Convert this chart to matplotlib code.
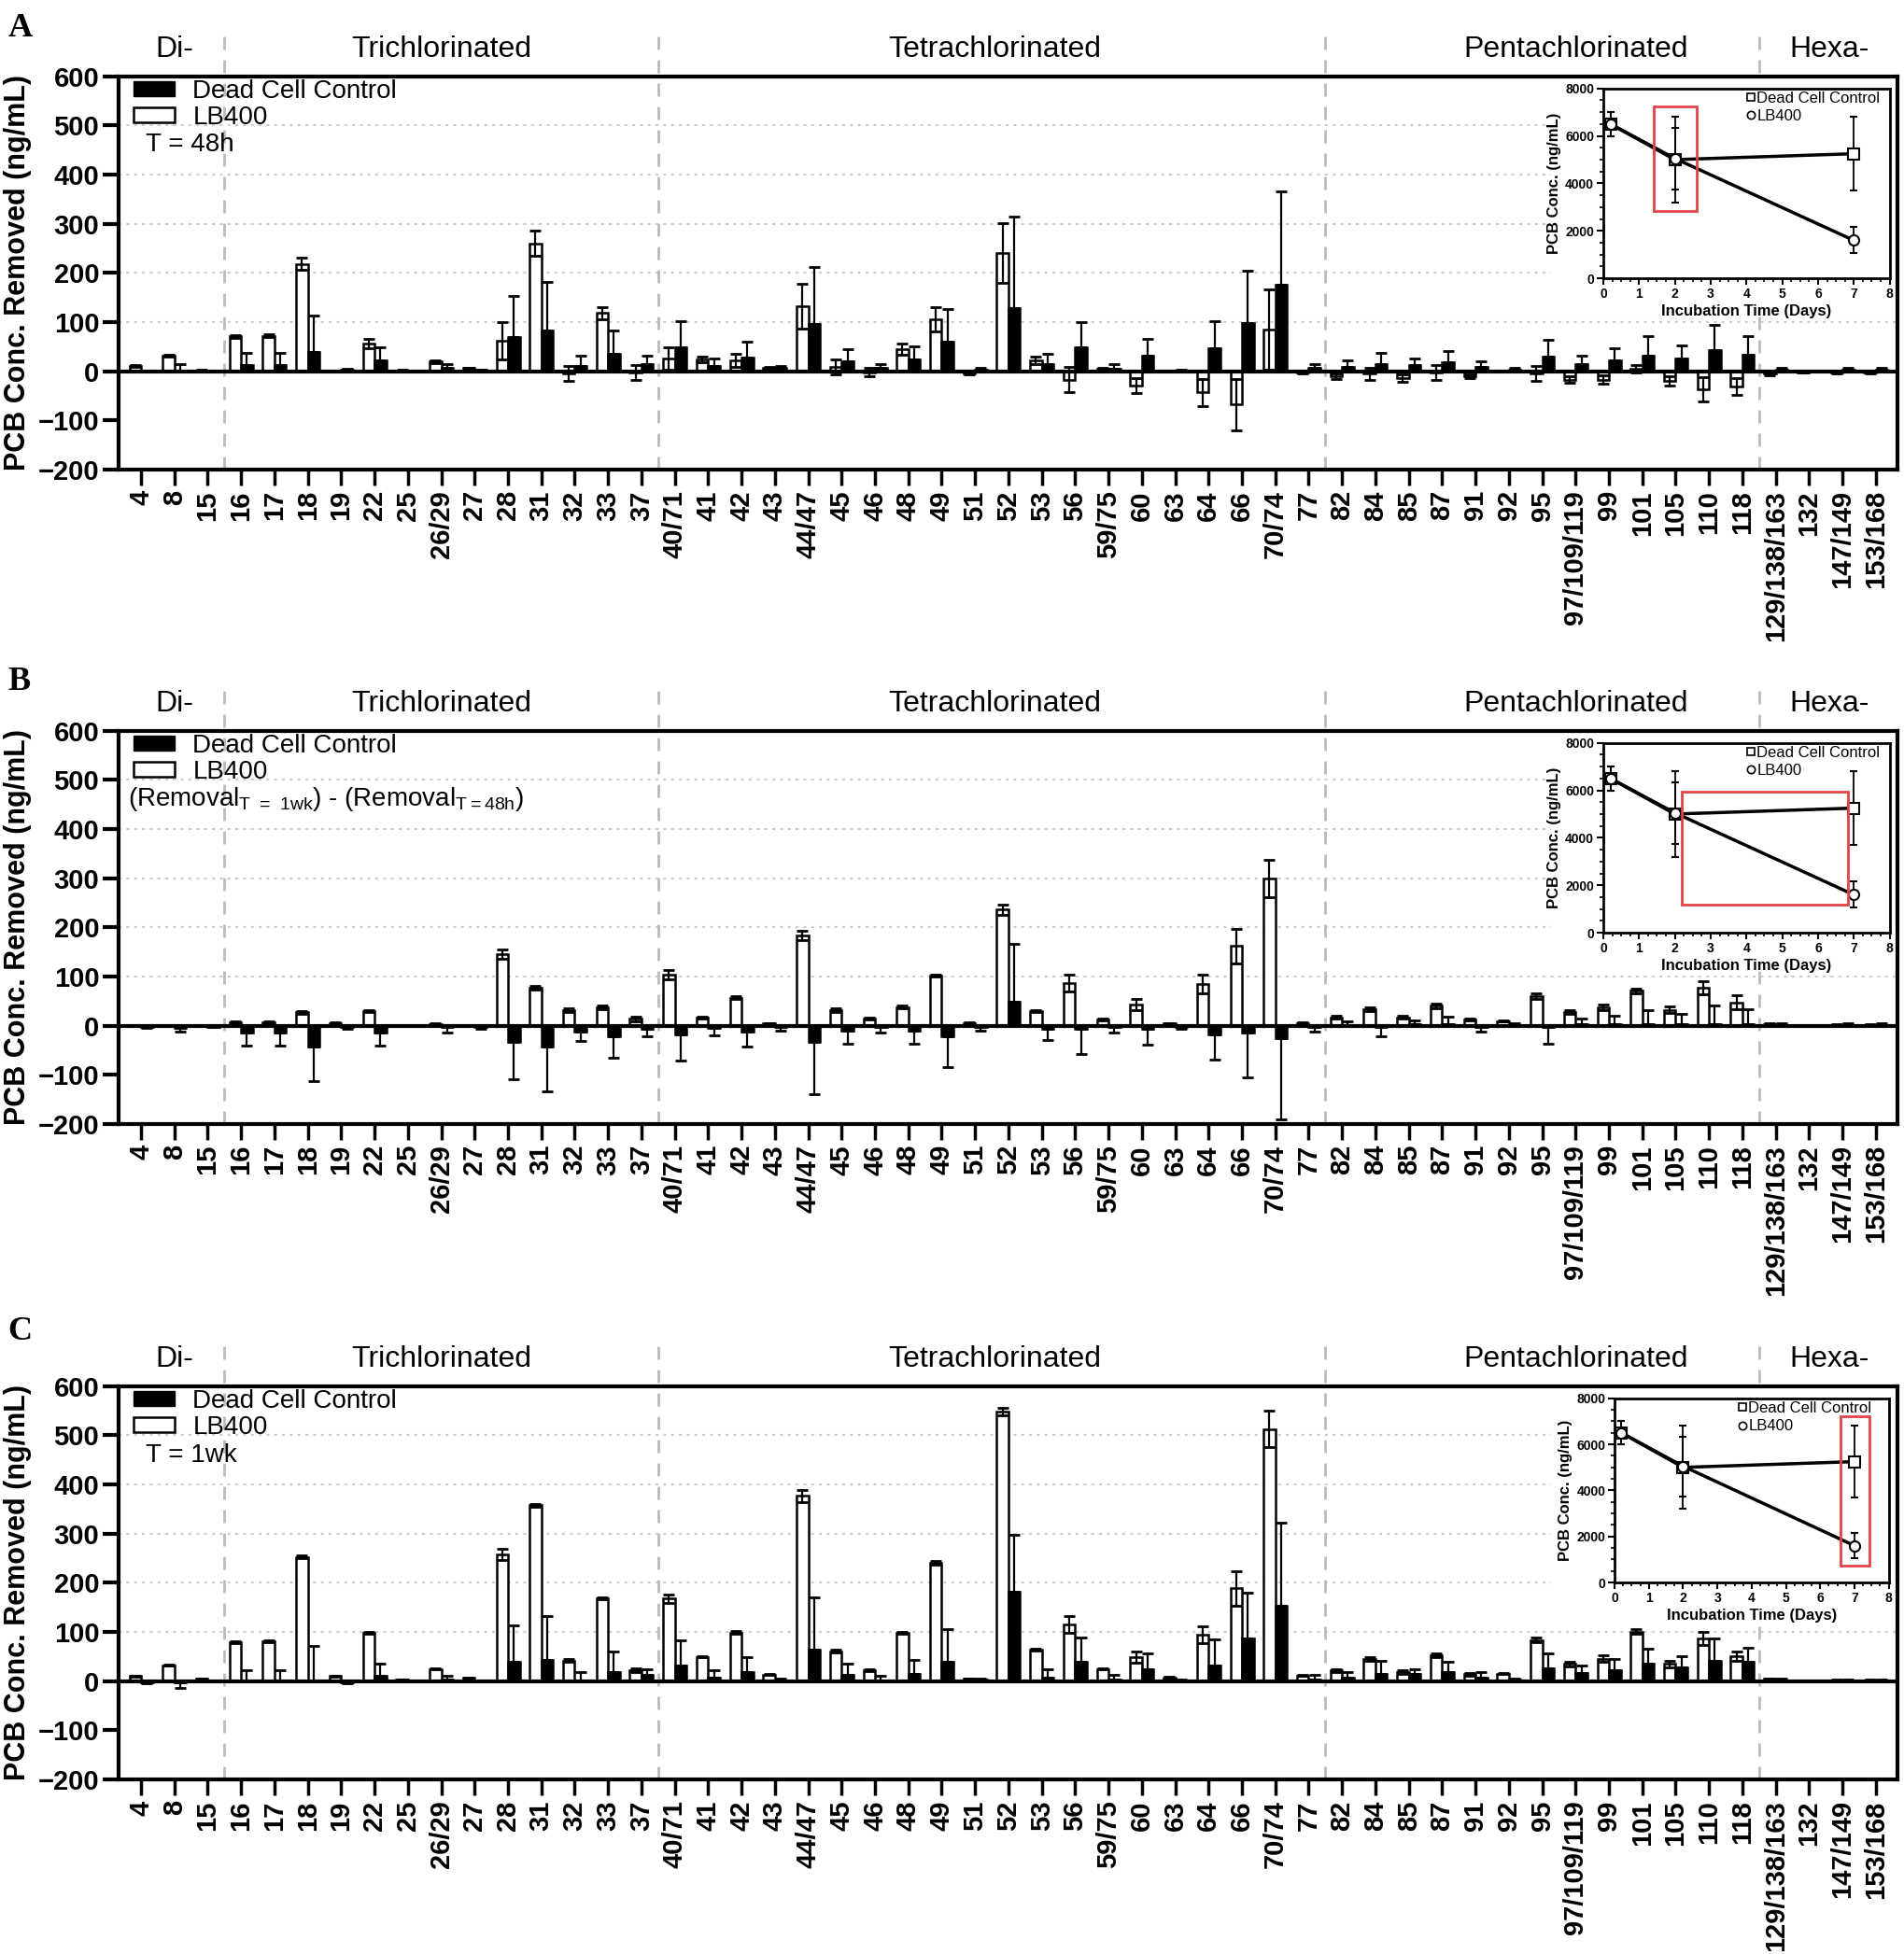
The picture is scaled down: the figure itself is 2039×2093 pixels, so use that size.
"""
PCB congener removal by LB400 vs. dead cell control (panels A-C) with
inset time courses of total PCB concentration.
"""
import matplotlib
matplotlib.use("Agg")
import matplotlib.pyplot as plt
import numpy as np
from matplotlib.lines import Line2D
from matplotlib.patches import Patch, Rectangle

plt.rcParams.update({"font.family": ["Liberation Sans", "DejaVu Sans"],
                     "mathtext.default": "regular"})

CONGENERS = ["4", "8", "15", "16", "17", "18", "19", "22", "25", "26/29", "27",
             "28", "31", "32", "33", "37", "40/71", "41", "42", "43", "44/47",
             "45", "46", "48", "49", "51", "52", "53", "56", "59/75", "60", "63",
             "64", "66", "70/74", "77", "82", "84", "85", "87", "91", "92", "95",
             "97/109/119", "99", "101", "105", "110", "118", "129/138/163", "132",
             "147/149", "153/168"]
GROUPS = ["Di-", "Trichlorinated", "Tetrachlorinated", "Pentachlorinated", "Hexa-"]
GROUP_CENTERS = [1.0, 9.0, 25.6, 43.0, 50.6]
GROUP_BREAKS = [2.5, 15.5, 35.5, 48.5]

# ---------------- Panel A: T = 48h ---------------- #
A_LB = [11, 31, 2, 71, 72, 218, 0, 56, 2, 20, 6, 62, 260, -4, 118, -3, 26, 24, 22,
        7, 132, 9, -2, 45, 105, -4, 241, 22, -17, 5, -29, 0, -43, -68, 85, -2, -10,
        -5, -14, -2, -10, 0, -5, -17, -17, 5, -20, -37, -31, -5, -2, -3, -3]
A_LB_ERR = [2, 2, 1, 3, 3, 12, 1, 10, 1, 3, 1, 38, 26, 15, 13, 15, 23, 6, 13, 2,
            45, 15, 8, 11, 25, 3, 61, 7, 26, 2, 15, 1, 28, 53, 81, 2, 5, 12, 8, 15,
            4, 1, 15, 7, 8, 7, 9, 24, 17, 3, 1, 1, 1]
A_DEAD = [1, 2, 2, 13, 13, 40, 3, 22, 2, 6, 3, 70, 82, 11, 36, 15, 48, 11, 28, 7,
          96, 20, 7, 24, 60, 3, 128, 14, 48, 5, 31, 2, 47, 98, 175, 7, 9, 15, 13,
          18, 9, 3, 30, 15, 22, 32, 26, 43, 34, 3, 0, 3, 3]
A_DEAD_ERR = [0, 13, 0, 24, 25, 73, 2, 27, 0, 9, 0, 83, 99, 20, 47, 16, 54, 15, 32,
              3, 115, 25, 8, 27, 66, 4, 187, 21, 52, 10, 35, 2, 55, 106, 191, 8, 13,
              22, 13, 23, 11, 3, 34, 17, 25, 39, 27, 51, 38, 3, 0, 3, 3]

# ---------------- Panel B: 1wk minus 48h ---------------- #
B_LB = [0, 0, 0, 7, 7, 27, 5, 29, 0, 3, 0, 145, 77, 31, 37, 14, 104, 16, 57, 4,
        183, 31, 14, 38, 102, 5, 236, 30, 87, 12, 43, 4, 85, 162, 300, 5, 17, 34,
        17, 40, 12, 9, 60, 28, 37, 71, 32, 77, 47, 3, 0, 2, 2]
B_LB_ERR = [0, 0, 0, 2, 2, 3, 2, 2, 0, 1, 0, 10, 4, 4, 3, 5, 9, 2, 3, 1, 10, 4, 2,
            2, 2, 1, 10, 2, 17, 2, 12, 1, 19, 35, 38, 1, 3, 4, 3, 5, 2, 1, 5, 4, 6,
            5, 7, 14, 14, 1, 0, 1, 1]
B_DEAD = [-3, -4, -2, -15, -15, -42, -3, -15, 0, -2, -2, -34, -43, -13, -21, -7,
          -17, -4, -13, -3, -34, -11, -3, -11, -21, -2, 49, -7, -7, -3, -7, -2,
          -17, -15, -26, -2, 2, -2, 3, 3, -2, 2, -3, 3, 3, 3, 3, 3, 3, 2, 0, 2, 2]
B_DEAD_ERR = [2, 9, 1, 25, 25, 70, 4, 26, 0, 12, 5, 76, 91, 18, 45, 14, 54, 16,
              30, 8, 106, 26, 12, 26, 64, 9, 117, 23, 50, 12, 31, 4, 53, 91, 165,
              11, 6, 19, 8, 16, 11, 2, 33, 11, 18, 29, 21, 38, 31, 2, 0, 2, 2]

# ---------------- Panel C: T = 1wk ---------------- #
C_LB = [10, 32, 5, 80, 82, 253, 10, 98, 3, 25, 7, 258, 358, 42, 169, 22, 168, 49,
        99, 13, 377, 61, 22, 99, 240, 5, 548, 64, 115, 25, 49, 8, 95, 189, 513, 11,
        22, 45, 19, 53, 14, 15, 84, 35, 46, 101, 35, 87, 51, 5, 0, 2, 2]
C_LB_ERR = [1, 1, 1, 2, 2, 2, 1, 2, 0, 1, 1, 11, 3, 3, 2, 4, 8, 1, 3, 1, 12, 3, 2,
            2, 4, 1, 8, 2, 17, 1, 12, 1, 17, 35, 37, 1, 3, 3, 4, 4, 3, 1, 4, 5, 6,
            5, 7, 13, 10, 1, 0, 1, 1]
C_DEAD = [-3, -2, 2, 2, 2, 2, -3, 11, 0, 3, 0, 40, 44, 2, 18, 13, 31, 8, 19, 2, 64,
          13, 2, 15, 40, 3, 181, 8, 40, 3, 25, 2, 32, 87, 154, 3, 8, 14, 14, 18, 8,
          3, 26, 17, 22, 35, 28, 42, 39, 2, 0, 2, 2]
C_DEAD_ERR = [2, 12, 0, 21, 21, 70, 2, 24, 0, 8, 0, 74, 89, 17, 43, 11, 53, 15, 30,
              3, 107, 23, 8, 28, 65, 2, 116, 17, 49, 10, 32, 2, 53, 92, 168, 10, 11,
              28, 11, 21, 10, 3, 31, 15, 23, 31, 23, 45, 29, 4, 0, 2, 2]

# ---------------- Inset: total PCB over time ---------------- #
DAYS = [0.2, 2, 7]
DEAD_CURVE = [6500, 5000, 5250]
DEAD_CURVE_ERR = [500, 1800, 1550]
LB_CURVE = [6500, 5050, 1600]
LB_CURVE_ERR = [500, 1300, 550]

NOTES = ["T = 48h", "(Removal$_{T\\ {=}\\ 1wk}$) - (Removal$_{T{=}48h}$)", "T = 1wk"]
# red highlight boxes in inset data units: (x0, y0, x1, y1)
HIGHLIGHTS = [(1.42, 2830, 2.6, 7250), (2.19, 1175, 6.84, 5940), (6.6, 720, 7.45, 7230)]

W = 0.35
RED = "#e04545"


def draw_panel(ax, lb, lb_err, dead, dead_err, note, box, inset_pos):
    x = np.arange(len(CONGENERS))
    dead = np.asarray(dead, float)
    dead_err = np.asarray(dead_err, float)

    for v in range(100, 600, 100):
        ax.axhline(v, color="#cccccc", lw=1.5, ls=(0, (1.5, 2.5)), zorder=1)
    for b in GROUP_BREAKS:
        ax.plot([b, b], [0, 1.11], transform=ax.get_xaxis_transform(),
                color="#bbbbbb", lw=2, ls=(0, (5, 4)), clip_on=False, zorder=1.5)
    for name, c in zip(GROUPS, GROUP_CENTERS):
        ax.text(c, 1.069, name, transform=ax.get_xaxis_transform(),
                ha="center", va="center", fontsize=23)
    # white background behind the inset
    ax.add_patch(Rectangle((0.805, 0.40), 0.195, 0.6, transform=ax.transAxes,
                           fc="white", ec="none", zorder=2))

    ax.bar(x - W / 2, lb, W, color="white", edgecolor="black", lw=1.8, zorder=3)
    ax.bar(x + W / 2, dead, W, color="black", edgecolor="black", lw=1.8, zorder=3)
    ax.errorbar(x - W / 2, lb, yerr=lb_err, fmt="none", ecolor="black",
                elinewidth=1.6, capsize=4, capthick=2, zorder=4)
    lower = np.where(dead < 0, dead_err, 0)
    upper = np.where(dead < 0, 0, dead_err)
    ax.errorbar(x + W / 2, dead, yerr=[lower, upper], fmt="none", ecolor="black",
                elinewidth=1.6, capsize=4, capthick=2, zorder=4)
    ax.axhline(0, color="black", lw=3, zorder=5)

    ax.set_xlim(-0.67, 52.65)
    ax.set_ylim(-200, 600)
    ax.set_yticks(range(-200, 601, 100))
    ax.set_xticks(x)
    ax.set_xticklabels(CONGENERS, rotation=90, fontsize=21, fontweight="bold")
    for t in ax.get_yticklabels():
        t.set_fontweight("bold")
    ax.tick_params(axis="y", labelsize=21, length=12, width=3, pad=3)
    ax.tick_params(axis="x", length=12, width=2.5, pad=4)
    for s in ax.spines.values():
        s.set_linewidth(3)
    ax.set_ylabel("PCB Conc. Removed (ng/mL)", fontsize=22, fontweight="bold")
    ax.yaxis.set_label_coords(-0.049, 0.5)

    leg = ax.legend(handles=[Patch(fc="black", ec="black"),
                             Patch(fc="white", ec="black", lw=1.8)],
                    labels=["Dead Cell Control", "LB400"], loc="upper left",
                    bbox_to_anchor=(0.003, 1.016), frameon=False, fontsize=20,
                    handlelength=1.6, handleheight=0.5, handletextpad=0.7,
                    labelspacing=0.08, borderaxespad=0.15, borderpad=0.2)
    leg.set_zorder(6)
    ax.text(0.005 if "Removal" in note else 0.015, 0.825, note,
            transform=ax.transAxes, ha="left", va="center", fontsize=20, zorder=6)

    # inset
    axin = ax.inset_axes(inset_pos)
    axin.set_zorder(7)
    axin.errorbar(DAYS, DEAD_CURVE, yerr=DEAD_CURVE_ERR, color="black", lw=2.5,
                  marker="s", ms=8, mfc="white", mec="black", mew=1.5,
                  elinewidth=1.3, capsize=3, capthick=1.3)
    axin.errorbar(DAYS, LB_CURVE, yerr=LB_CURVE_ERR, color="black", lw=2.5,
                  marker="o", ms=8, mfc="white", mec="black", mew=1.5,
                  elinewidth=1.3, capsize=3, capthick=1.3)
    x0, y0, x1, y1 = box
    axin.add_patch(Rectangle((x0, y0), x1 - x0, y1 - y0, fill=False, ec=RED,
                             lw=2, zorder=5))
    axin.set_xlim(0, 8)
    axin.set_ylim(0, 8000)
    axin.set_xticks(range(0, 9))
    axin.set_yticks(range(0, 8001, 2000))
    axin.xaxis.set_minor_locator(matplotlib.ticker.MultipleLocator(0.25))
    axin.yaxis.set_minor_locator(matplotlib.ticker.MultipleLocator(500))
    axin.tick_params(which="major", length=5, width=1.5, labelsize=10, pad=2)
    axin.tick_params(which="minor", length=3, width=1.2)
    for t in axin.get_xticklabels() + axin.get_yticklabels():
        t.set_fontweight("bold")
    for s in axin.spines.values():
        s.set_linewidth(2)
    axin.set_xlabel("Incubation Time (Days)", fontsize=12, fontweight="bold",
                    labelpad=3)
    axin.set_ylabel("PCB Conc. (ng/mL)", fontsize=12, fontweight="bold",
                    labelpad=3)
    axin.legend(handles=[Line2D([], [], ls="none", marker="s", ms=6, mfc="white",
                                mec="black", mew=1.2),
                         Line2D([], [], ls="none", marker="o", ms=6, mfc="white",
                                mec="black", mew=1.2)],
                labels=["Dead Cell Control", "LB400"], loc="upper left",
                bbox_to_anchor=(0.49 if inset_pos[2] > 0.158 else 0.44, 1.0),
                frameon=False, fontsize=12,
                handlelength=0.5, handletextpad=0.15, labelspacing=0.25,
                borderaxespad=0.0, borderpad=0.2)


fig = plt.figure(figsize=(20.4, 20.93), dpi=100)
panels = [("A", 0.7597, A_LB, A_LB_ERR, A_DEAD, A_DEAD_ERR, [0.8346, 0.486, 0.161, 0.483]),
          ("B", 0.4248, B_LB, B_LB_ERR, B_DEAD, B_DEAD_ERR, [0.8346, 0.486, 0.161, 0.483]),
          ("C", 0.0893, C_LB, C_LB_ERR, C_DEAD, C_DEAD_ERR, [0.841, 0.501, 0.154, 0.468])]
letter_y = [1 - 14 / 2093, 1 - 714 / 2093, 1 - 1410 / 2093]
for i, (letter, bottom, lb, lbe, dd, dde, ipos) in enumerate(panels):
    ax = fig.add_axes([0.0623, bottom, 0.9338, 0.2013])
    draw_panel(ax, lb, lbe, dd, dde, NOTES[i], HIGHLIGHTS[i], ipos)
    fig.text(0.004, letter_y[i], letter, ha="left", va="top", fontsize=26,
             fontweight="bold", family=["Liberation Serif", "DejaVu Serif"])

fig.savefig("out.png", dpi=100)
